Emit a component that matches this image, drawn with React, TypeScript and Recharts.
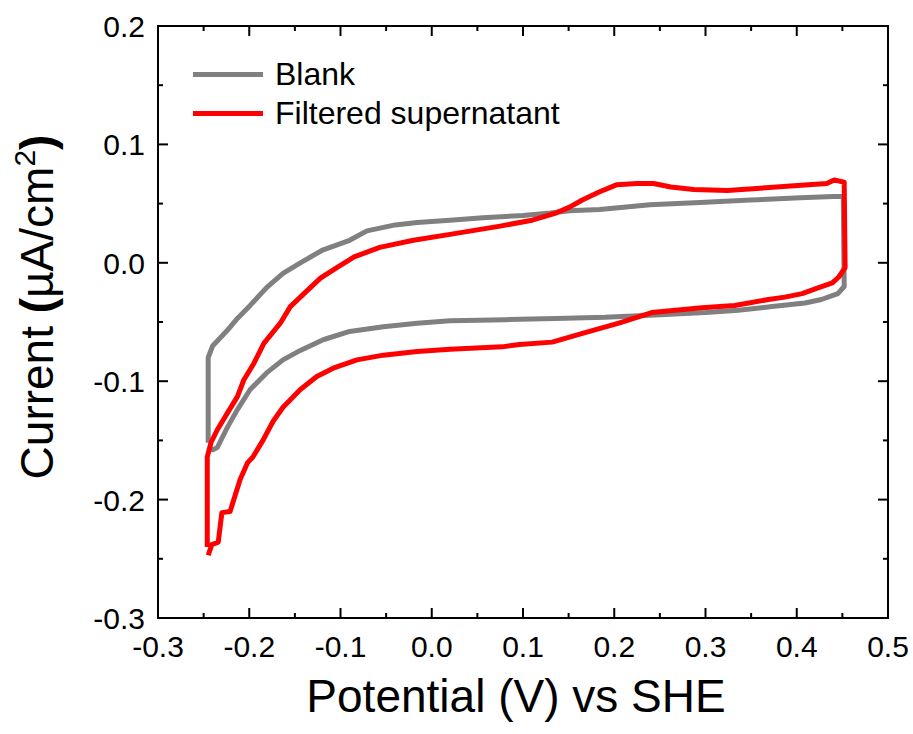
import { Label, Legend, Line, LineChart, ReferenceArea, XAxis, YAxis } from 'recharts';

const FONT = '"Liberation Sans", Arial, sans-serif';

// cyclic voltammograms, scan order: anodic sweep, switch at 0.45 V, cathodic sweep back
const blankPotential = [
  -0.245, -0.245, -0.24, -0.235, -0.224, -0.213, -0.199, -0.181, -0.163, -0.144, -0.119, -0.09,
  -0.071, -0.04, -0.016, 0.02, 0.056, 0.1, 0.13, 0.151, 0.184, 0.239, 0.294, 0.349, 0.404, 0.44,
  0.451, 0.452, 0.445, 0.427, 0.409, 0.373, 0.336, 0.3, 0.245, 0.19, 0.136, 0.081, 0.02, -0.016,
  -0.053, -0.09, -0.119, -0.144, -0.163, -0.181, -0.199, -0.213, -0.224, -0.235, -0.24, -0.245,
];
const blankCurrent = [
  -0.152, -0.08, -0.07, -0.066, -0.057, -0.047, -0.036, -0.021, -0.009, 0.0, 0.011, 0.019,
  0.027, 0.032, 0.034, 0.036, 0.038, 0.04, 0.042, 0.044, 0.045, 0.049, 0.051, 0.053, 0.055, 0.056,
  0.056, -0.02, -0.026, -0.031, -0.034, -0.037, -0.04, -0.042, -0.044, -0.046, -0.047, -0.048, -0.049, -0.051,
  -0.054, -0.058, -0.065, -0.074, -0.082, -0.093, -0.107, -0.124, -0.139, -0.156, -0.158, -0.155,
];

const supernatantPotential = [
  -0.246, -0.246, -0.242, -0.235, -0.224, -0.213, -0.206, -0.195, -0.184, -0.166, -0.155, -0.14,
  -0.122, -0.104, -0.085, -0.057, -0.02, 0.02, 0.075, 0.11, 0.136, 0.151, 0.165, 0.184, 0.203,
  0.225, 0.243, 0.262, 0.287, 0.324, 0.36, 0.397, 0.433, 0.441, 0.452, 0.453, 0.446, 0.439,
  0.424, 0.406, 0.387, 0.369, 0.332, 0.296, 0.241, 0.205, 0.168, 0.132, 0.096, 0.077, 0.02,
  -0.016, -0.053, -0.082, -0.108, -0.126, -0.144, -0.163, -0.174, -0.185, -0.196, -0.202, -0.21,
  -0.221, -0.23, -0.234, -0.241, -0.245,
];
const supernatantCurrent = [
  -0.24, -0.164, -0.152, -0.141, -0.127, -0.113, -0.099, -0.085, -0.068, -0.051, -0.037, -0.026,
  -0.013, -0.004, 0.005, 0.013, 0.019, 0.024, 0.031, 0.036, 0.042, 0.047, 0.053, 0.06, 0.066,
  0.067, 0.067, 0.064, 0.062, 0.061, 0.063, 0.065, 0.067, 0.07, 0.068, -0.004, -0.012, -0.017,
  -0.021, -0.026, -0.029, -0.031, -0.036, -0.038, -0.042, -0.051, -0.059, -0.067, -0.069, -0.071, -0.073,
  -0.075, -0.078, -0.082, -0.089, -0.096, -0.107, -0.122, -0.134, -0.15, -0.164, -0.169, -0.183,
  -0.21, -0.211, -0.236, -0.238, -0.247,
];

const xTicks = [-0.3, -0.25, -0.2, -0.15, -0.1, -0.05, 0, 0.05, 0.1, 0.15, 0.2, 0.25, 0.3, 0.35, 0.4, 0.45, 0.5];
const yTicks = [-0.3, -0.25, -0.2, -0.15, -0.1, -0.05, 0, 0.05, 0.1, 0.15, 0.2];

const series = [
  { name: 'Blank', color: '#808080', x: blankPotential, y: blankCurrent },
  { name: 'Filtered supernatant', color: '#ff0000', x: supernatantPotential, y: supernatantCurrent },
];

const toPoints = (xs: number[], ys: number[]) => xs.map((v, i) => ({ potential: v, current: ys[i] }));

function FrameTick(props: any) {
  const { x, y, payload, side } = props;
  const v = payload.value as number;
  const major = Math.abs(v * 10 - Math.round(v * 10)) < 1e-6;
  const len = major ? 10 : 5;
  const label = v.toFixed(1);
  const line = { stroke: '#000', strokeWidth: 2 };
  if (side === 'bottom') {
    return (
      <g>
        <line x1={x} y1={y} x2={x} y2={y - len} {...line} />
        {major && (
          <text x={x} y={y + 39} textAnchor="middle" fontSize={30} fontFamily={FONT} fill="#000">
            {label}
          </text>
        )}
      </g>
    );
  }
  if (side === 'left') {
    return (
      <g>
        <line x1={x} y1={y} x2={x + len} y2={y} {...line} />
        {major && (
          <text x={x - 13} y={y + 11} textAnchor="end" fontSize={30} fontFamily={FONT} fill="#000">
            {label}
          </text>
        )}
      </g>
    );
  }
  if (side === 'top') return <line x1={x} y1={y} x2={x} y2={y + len} {...line} />;
  return <line x1={x} y1={y} x2={x - len} y2={y} {...line} />;
}

function YTitle({ viewBox }: any) {
  const cx = viewBox.x + 53;
  const cy = viewBox.y + viewBox.height / 2 - 15;
  return (
    <text
      x={cx}
      y={cy}
      transform={`rotate(-90, ${cx}, ${cy})`}
      textAnchor="middle"
      fontSize={46}
      fontFamily={FONT}
      fill="#000"
    >
      <tspan>Current </tspan>
      <tspan fontWeight="bold">(</tspan>
      <tspan>µA/cm</tspan>
      <tspan fontSize={30} dy={-18}>2</tspan>
      <tspan fontWeight="bold" dy={18}>)</tspan>
    </text>
  );
}

function LegendBox() {
  return (
    <div style={{ fontFamily: FONT, fontSize: 32, lineHeight: '39px', color: '#000' }}>
      {series.map((s) => (
        <div key={s.name} style={{ display: 'flex', alignItems: 'center', whiteSpace: 'nowrap' }}>
          <div style={{ width: 70, height: 5, background: s.color, marginRight: 12 }} />
          <span>{s.name}</span>
        </div>
      ))}
    </div>
  );
}

export default function App() {
  return (
    <div style={{ position: 'absolute', left: 0, top: 0, background: '#fff' }}>
      <LineChart width={913} height={734} margin={{ top: 25, right: 24, bottom: 0, left: 0 }}>
        <XAxis
          xAxisId="bottom"
          type="number"
          dataKey="potential"
          domain={[-0.3, 0.5]}
          ticks={xTicks}
          interval={0}
          allowDataOverflow
          height={116}
          tickSize={0}
          tickMargin={0}
          tickLine={false}
          axisLine={{ stroke: '#000', strokeWidth: 2 }}
          tick={(p: any) => <FrameTick {...p} side="bottom" />}
        >
          <Label
            value="Potential (V) vs SHE"
            position="insideBottom"
            offset={22}
            dx={-7}
            style={{ fontSize: 46, fontFamily: FONT, fill: '#000' }}
          />
        </XAxis>
        <XAxis
          xAxisId="top"
          orientation="top"
          type="number"
          dataKey="potential"
          domain={[-0.3, 0.5]}
          ticks={xTicks}
          interval={0}
          allowDataOverflow
          height={1}
          tickSize={0}
          tickMargin={0}
          tickLine={false}
          axisLine={{ stroke: '#000', strokeWidth: 2 }}
          tick={(p: any) => <FrameTick {...p} side="top" />}
        />
        <YAxis
          yAxisId="left"
          type="number"
          domain={[-0.3, 0.2]}
          ticks={yTicks}
          interval={0}
          allowDataOverflow
          width={158}
          tickSize={0}
          tickMargin={0}
          tickLine={false}
          axisLine={{ stroke: '#000', strokeWidth: 2 }}
          tick={(p: any) => <FrameTick {...p} side="left" />}
        >
          <Label content={<YTitle />} />
        </YAxis>
        <YAxis
          yAxisId="right"
          orientation="right"
          type="number"
          domain={[-0.3, 0.2]}
          ticks={yTicks}
          interval={0}
          allowDataOverflow
          width={1}
          tickSize={0}
          tickMargin={0}
          tickLine={false}
          axisLine={{ stroke: '#000', strokeWidth: 2 }}
          tick={(p: any) => <FrameTick {...p} side="right" />}
        />
        <ReferenceArea
          xAxisId="bottom"
          yAxisId="left"
          x1={-0.3}
          x2={0.5}
          y1={-0.3}
          y2={0.2}
          fill="none"
          fillOpacity={0}
          stroke="#000"
          strokeWidth={2}
          ifOverflow="visible"
        />
        <Legend
          layout="vertical"
          align="center"
          verticalAlign="middle"
          wrapperStyle={{ left: 193, top: 55, width: 'auto' }}
          content={() => <LegendBox />}
        />
        {series.map((s) => (
          <Line
            key={s.name}
            xAxisId="bottom"
            yAxisId="left"
            name={s.name}
            data={toPoints(s.x, s.y)}
            dataKey="current"
            type="linear"
            stroke={s.color}
            strokeWidth={5}
            strokeLinejoin="round"
            dot={false}
            activeDot={false}
            isAnimationActive={false}
          />
        ))}
      </LineChart>
    </div>
  );
}
